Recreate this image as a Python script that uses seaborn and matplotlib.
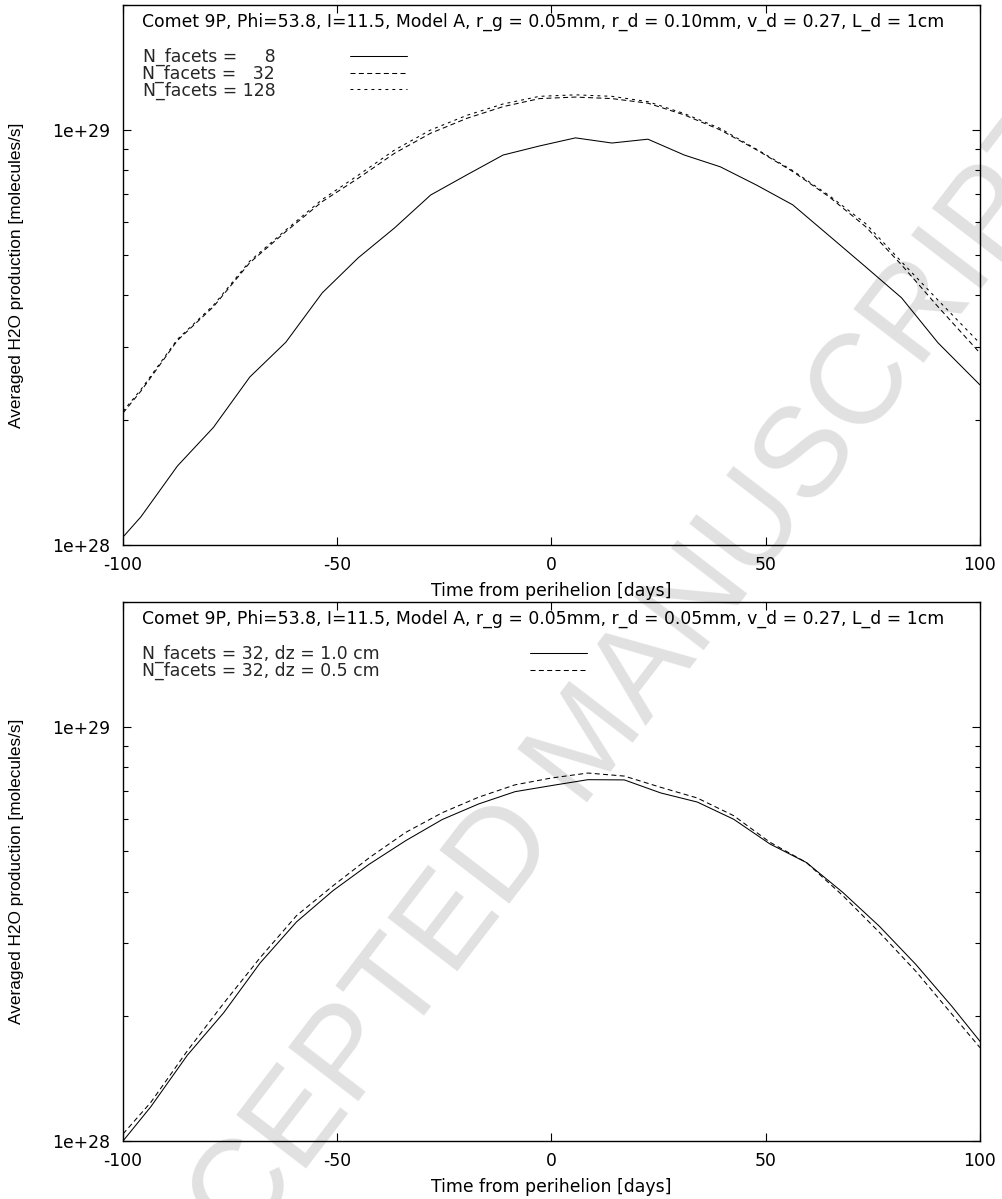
import numpy as np
import matplotlib
matplotlib.use("Agg")
import matplotlib.pyplot as plt
import seaborn as sns
from matplotlib.ticker import LogLocator, FuncFormatter, NullFormatter, NullLocator

# ---------------------------------------------------------------------------
# Averaged H2O production of comet 9P around perihelion (molecules/s)
# ---------------------------------------------------------------------------
days_top = [-100, -95.8, -87.3, -78.9, -70.4, -62.0, -53.5, -45.1, -36.6, -28.2,
            -19.7, -11.3, -2.8, 5.6, 14.1, 22.5, 31.0, 39.4, 47.9, 56.3,
            64.8, 73.3, 81.7, 90.2, 100]
h2o_nf8 = [1.045e28, 1.17e28, 1.55e28, 1.92e28, 2.54e28, 3.08e28, 4.05e28, 4.92e28,
           5.81e28, 6.97e28, 7.8e28, 8.7e28, 9.15e28, 9.57e28, 9.3e28, 9.5e28,
           8.7e28, 8.15e28, 7.36e28, 6.6e28, 5.56e28, 4.68e28, 3.94e28, 3.07e28, 2.43e28]
h2o_nf32 = [2.08e28, 2.35e28, 3.11e28, 3.75e28, 4.79e28, 5.69e28, 6.72e28, 7.65e28,
            8.79e28, 9.82e28, 1.067e29, 1.138e29, 1.19e29, 1.2e29, 1.19e29, 1.16e29,
            1.087e29, 1.0e29, 8.95e28, 7.94e28, 6.9e28, 5.85e28, 4.73e28, 3.75e28, 2.9e28]
h2o_nf128 = [2.1e28, 2.37e28, 3.13e28, 3.78e28, 4.83e28, 5.74e28, 6.8e28, 7.78e28,
             8.95e28, 1.0e29, 1.085e29, 1.155e29, 1.205e29, 1.215e29, 1.205e29, 1.17e29,
             1.095e29, 1.008e29, 8.98e28, 7.98e28, 6.95e28, 5.95e28, 4.81e28, 3.89e28, 3.06e28]

days_bottom = [-100, -93.5, -85, -76.5, -68, -59.5, -51, -42.5, -34, -25.5, -17, -8.5,
               0, 8.5, 17, 25.5, 34, 42.5, 51, 59.5, 68, 76.5, 85, 93.5, 100]
h2o_dz10 = [1.0e28, 1.21e28, 1.61e28, 2.04e28, 2.69e28, 3.38e28, 4.02e28, 4.66e28,
            5.31e28, 5.97e28, 6.51e28, 6.97e28, 7.21e28, 7.45e28, 7.44e28, 6.92e28,
            6.58e28, 5.98e28, 5.21e28, 4.70e28, 3.98e28, 3.30e28, 2.67e28, 2.11e28, 1.74e28]
h2o_dz05 = [1.04e28, 1.24e28, 1.65e28, 2.15e28, 2.77e28, 3.50e28, 4.13e28, 4.83e28,
            5.56e28, 6.20e28, 6.76e28, 7.24e28, 7.52e28, 7.73e28, 7.60e28, 7.14e28,
            6.73e28, 6.10e28, 5.26e28, 4.70e28, 3.91e28, 3.19e28, 2.57e28, 2.02e28, 1.68e28]

title_top = ("Comet 9P, Phi=53.8, I=11.5, Model A, r_g = 0.05mm, "
             "r_d = 0.10mm, v_d = 0.27, L_d = 1cm")
title_bottom = ("Comet 9P, Phi=53.8, I=11.5, Model A, r_g = 0.05mm, "
                "r_d = 0.05mm, v_d = 0.27, L_d = 1cm")
labels_top = ["N_facets =     8", "N_facets =   32", "N_facets = 128"]
labels_bottom = ["N_facets = 32, dz = 1.0 cm", "N_facets = 32, dz = 0.5 cm"]
x_ticks = [-100, -50, 0, 50, 100]
x_label = "Time from perihelion [days]"
y_label = "Averaged H2O production [molecules/s]"
watermark = "ACCEPTED MANUSCRIPT"

# ---------------------------------------------------------------------------
sns.set_theme(style="ticks")
plt.rcParams["font.family"] = ["DejaVu Sans"]
plt.rcParams["axes.unicode_minus"] = False

FS = 12.45
LW = 0.75
SOLID = "-"
DASHED = (0, (4.8, 3.2))
DOTTED = (0, (2.8, 3.9))

W, H = 1003, 1199
fig = plt.figure(figsize=(W / 100, H / 100), dpi=100)
fig.patch.set_facecolor("white")

ax_top = fig.add_axes([123 / W, 1 - 545 / H, 857 / W, 540 / H])
ax_bot = fig.add_axes([123 / W, 1 - 1141 / H, 857 / W, 539 / H])


def draw_panel(ax, days, series, labels, styles, title, text_gap):
    ax.set_facecolor("none")
    for vals, lab, ls in zip(series, labels, styles):
        sns.lineplot(x=days, y=vals, ax=ax, color="black", linewidth=LW,
                     linestyle=ls, label=lab, errorbar=None)
    ax.set_yscale("log")
    ax.set_xlim(-100, 100)
    ax.set_ylim(1e28, 2e29)
    ax.set_xticks(x_ticks)
    ax.xaxis.set_minor_locator(NullLocator())
    ax.yaxis.set_major_locator(LogLocator(base=10, numticks=10))
    ax.yaxis.set_minor_locator(LogLocator(base=10, subs=np.arange(2, 10), numticks=40))
    ax.yaxis.set_major_formatter(FuncFormatter(lambda v, p: f"{v:.0e}"))
    ax.yaxis.set_minor_formatter(NullFormatter())
    ax.tick_params(which="both", direction="in", top=True, right=True,
                   color="black", width=0.8, labelsize=FS, labelcolor="black")
    ax.tick_params(which="major", length=5.8)
    ax.tick_params(which="minor", length=3.6)
    ax.tick_params(axis="x", which="major", pad=8)
    ax.tick_params(axis="y", which="major", pad=9.4)
    for sp in ax.spines.values():
        sp.set_visible(True)
        sp.set_linewidth(1.0)
        sp.set_color("black")

    ax.set_xlabel(x_label, fontsize=FS, labelpad=5.8, color="black")
    ax.set_ylabel(y_label, fontsize=12.4, color="black",
                  family=["Liberation Sans", "DejaVu Sans"])
    ax.yaxis.set_label_coords(-0.1155, 0.5)

    ax.text(19.5 / 857, 1 - 21.5 / 540, title,
            transform=ax.transAxes, ha="left", va="baseline",
            fontsize=FS, color="black")

    handles, labs = ax.get_legend_handles_labels()
    ax.legend(handles, labs, loc="upper left",
              bbox_to_anchor=(19.5 / 857, 1 - 43 / 540),
              markerfirst=False, frameon=False, fontsize=FS,
              handlelength=3.3, handletextpad=text_gap,
              labelspacing=-0.09, borderpad=0, borderaxespad=0)


draw_panel(ax_top, days_top, [h2o_nf8, h2o_nf32, h2o_nf128], labels_top,
           [SOLID, DASHED, DOTTED], title_top, 4.3)
draw_panel(ax_bot, days_bottom, [h2o_dz10, h2o_dz05], labels_bottom,
           [SOLID, DASHED], title_bottom, 8.65)

# faint diagonal watermark behind the plots
fig.text(590 / W, 1 - 745 / H, watermark, rotation=52.5, ha="center", va="center",
         rotation_mode="anchor", fontsize=92, color="#e1e1e1",
         family=["Liberation Sans", "DejaVu Sans"], zorder=-10)

fig.savefig("out.png", dpi=100, facecolor="white")
